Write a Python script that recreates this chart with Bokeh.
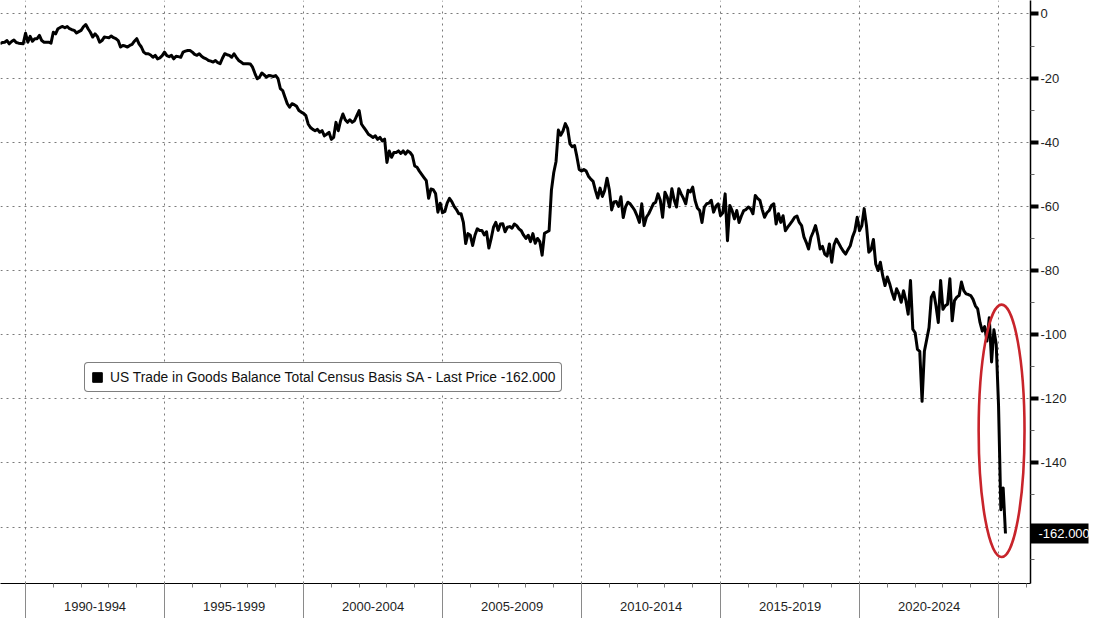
import pandas as pd
from bokeh.plotting import figure
from bokeh.models import (Range1d, LinearAxis, FixedTicker, Legend, LegendItem,
                          CustomLabelingPolicy)
from bokeh.embed import file_html
from bokeh.resources import INLINE

# ---------------- data (monthly, US trade in goods balance, USD bn) ----------------
tb_1989_1994 = [
    -9.3, -8.9, -8.8, -8.3, -9.3, -8.6, -8.1, -8.9, -9.1, -9.2, -9.3, -6.0,
    -8.8, -7.0, -8.5, -7.7, -7.7, -6.7, -8.3, -8.8, -8.8, -8.8, -9.1, -5.7,
    -6.2, -4.6, -4.2, -3.9, -4.3, -3.9, -4.6, -4.9, -5.1, -5.9, -5.5, -5.1,
    -4.0, -3.3, -4.6, -5.7, -7.2, -6.2, -7.0, -8.8, -8.3, -7.2, -7.3, -7.4,
    -6.9, -7.4, -7.7, -8.3, -10.3, -9.8, -10.0, -10.3, -9.8, -9.5, -8.5, -7.7,
    -9.3, -10.3, -11.9, -12.4, -12.4, -12.8, -13.5, -12.9, -14.0, -13.7, -13.0, -11.9,
]
tb_1995_1999 = [
    -13.0, -13.3, -12.9, -14.0, -13.2, -13.3, -13.5, -11.9, -11.6, -11.4, -11.4, -11.9,
    -12.6, -12.9, -12.4, -13.2, -13.7, -14.0, -14.5, -14.7, -15.0, -14.5, -15.2, -15.5,
    -13.8, -12.4, -12.7, -12.9, -13.5, -12.4, -13.5, -14.5, -15.0, -15.5, -15.5, -15.5,
    -15.6, -16.6, -18.5, -20.2, -19.7, -18.4, -19.0, -19.7, -19.2, -19.3, -19.5, -19.2,
    -20.2, -23.3, -23.9, -26.0, -28.0, -29.1, -28.0, -28.3, -28.8, -30.1, -30.6, -31.0,
]
tb_2000_2004 = [
    -31.7, -34.3, -35.4, -36.0, -36.4, -36.0, -36.9, -36.4, -38.0, -37.5, -36.9, -39.1,
    -38.5, -33.8, -36.4, -33.3, -31.2, -33.0, -33.8, -33.0, -33.8, -33.3, -31.7, -30.1,
    -34.3, -35.4, -36.4, -37.5, -38.0, -38.5, -38.0, -39.1, -38.5, -39.6, -39.0, -46.3,
    -42.7, -44.7, -43.2, -43.2, -42.7, -43.5, -42.7, -43.7, -42.7, -43.2, -44.2, -47.4,
    -47.8, -49.0, -50.0, -51.0, -52.0, -57.5, -54.6, -54.8, -56.0, -61.8, -59.0, -62.0,
]
tb_2005_2009 = [
    -61.6, -59.0, -57.5, -58.5, -60.0, -61.0, -62.3, -62.3, -65.0, -71.6, -68.5, -69.0,
    -72.2, -69.0, -67.0, -67.5, -67.5, -68.9, -67.9, -73.0, -70.0, -66.5, -65.0, -67.5,
    -65.5, -65.4, -67.9, -66.5, -66.3, -66.8, -65.5, -66.0, -67.0, -67.6, -69.0, -70.0,
    -69.0, -71.0, -68.5, -71.5, -70.0, -71.0, -75.2, -68.4, -68.0, -67.6, -55.0, -49.5,
    -46.0, -36.2, -37.8, -36.5, -34.2, -35.7, -40.5, -41.4, -41.0, -44.5, -48.5, -49.0,
]
tb_2010_2014 = [
    -48.5, -49.0, -50.6, -51.5, -52.2, -55.0, -57.4, -54.3, -56.9, -55.0, -51.2, -54.8,
    -61.1, -58.6, -58.5, -60.0, -57.0, -63.5, -60.2, -58.7, -59.2, -60.2, -61.3, -63.0,
    -65.0, -59.2, -66.0, -63.4, -62.3, -60.8, -59.2, -58.7, -56.1, -58.1, -63.4, -55.6,
    -57.1, -60.2, -54.5, -58.0, -60.2, -54.5, -56.1, -57.5, -59.2, -55.0, -55.5, -54.0,
    -58.1, -60.5, -61.3, -65.0, -60.2, -59.2, -59.0, -58.1, -61.8, -60.0, -59.2, -62.9,
]
tb_2015_2019 = [
    -62.0, -56.1, -70.7, -59.7, -61.3, -63.9, -61.3, -65.0, -63.0, -61.3, -61.0, -60.2,
    -60.8, -62.3, -56.6, -57.5, -58.1, -61.0, -63.4, -62.0, -61.3, -59.7, -59.2, -65.5,
    -62.3, -65.0, -62.9, -67.6, -66.5, -65.5, -64.5, -63.4, -63.0, -65.0, -66.0, -69.5,
    -71.2, -73.3, -69.7, -68.0, -66.0, -69.0, -73.3, -72.5, -74.9, -75.5, -71.7, -77.4,
    -72.0, -70.2, -71.5, -72.8, -74.0, -74.9, -73.5, -72.3, -69.5, -67.6, -63.4, -67.6,
]
tb_2020_2025 = [
    -66.0, -60.7, -66.0, -74.3, -73.5, -70.3, -78.0, -80.0, -77.4, -81.6, -84.7, -82.0,
    -84.1, -86.8, -89.0, -85.7, -87.3, -89.9, -86.3, -89.4, -93.6, -83.1, -98.3, -99.4,
    -104.6, -105.2, -120.8, -105.2, -101.5, -97.8, -88.3, -86.8, -91.0, -96.2, -83.1, -92.1,
    -91.0, -90.5, -82.6, -95.7, -89.4, -88.3, -87.8, -83.6, -86.3, -87.3, -87.5, -87.8,
    -89.0, -91.0, -92.0, -96.2, -98.9, -97.5, -102.0, -94.7, -108.5, -98.5, -103.0, -122.0,
    -154.6, -147.8, -162.0,
]
first_month = "1989-01-31"

period_bounds = [1990, 1995, 2000, 2005, 2010, 2015, 2020, 2025]
period_labels = ["1990-1994", "1995-1999", "2000-2004", "2005-2009",
                 "2010-2014", "2015-2019", "2020-2024"]
year_ticks = list(range(1990, 2027))
y_ticks = [0, -20, -40, -60, -80, -100, -120, -140, -160]
y_labels = ["0", "-20", "-40", "-60", "-80", "-100", "-120", "-140", "-160"]
y_minor = [-10, -30, -50, -70, -90, -110, -130, -150, -170]
legend_text = "US Trade in Goods Balance Total Census Basis SA - Last Price -162.000"
last_text = "-162.000"
last_value = -162.0

# ---------------- build ----------------
values = (tb_1989_1994 + tb_1995_1999 + tb_2000_2004 + tb_2005_2009
          + tb_2010_2014 + tb_2015_2019 + tb_2020_2025)
dates = pd.date_range(first_month, periods=len(values), freq="ME")
xdec = [d.year + d.month / 12.0 for d in dates]
mid_ticks = [(a + b) / 2.0 for a, b in zip(period_bounds[:-1], period_bounds[1:])]

FONT = "Liberation Sans"
TXT = "#1e1e1e"

p = figure(width=1094, height=618, output_backend="svg", toolbar_location=None,
           x_range=Range1d(1989.10, 2026.15), y_range=Range1d(-177.6, 4.2),
           y_axis_location="right", min_border=0, min_border_right=64)
p.outline_line_color = None
p.background_fill_color = "white"
p.border_fill_color = "white"

# grids
p.xgrid.ticker = FixedTicker(ticks=period_bounds)
p.ygrid.ticker = FixedTicker(ticks=y_ticks)
for g in (p.xgrid, p.ygrid):
    g.grid_line_color = "#7a7a7a"
    g.grid_line_dash = "2 4"
    g.grid_line_width = 1

# bottom axis with centred period labels
xa = p.xaxis[0]
xa.ticker = FixedTicker(ticks=mid_ticks, minor_ticks=year_ticks)
xa.major_label_overrides = {m: l for m, l in zip(mid_ticks, period_labels)}
xa.major_tick_line_color = None
xa.major_tick_in = 0
xa.major_tick_out = 0
xa.minor_tick_in = 0
xa.minor_tick_out = 4
xa.minor_tick_line_color = "#7a7a7a"
xa.axis_line_color = "black"
xa.axis_line_width = 1
xa.major_label_standoff = 14
xa.major_label_text_font = FONT
xa.major_label_text_font_size = "13px"
xa.major_label_text_color = TXT

# separator lines between periods (tick marks only, no labels)
bnd = LinearAxis(ticker=FixedTicker(ticks=period_bounds, minor_ticks=[]))
bnd.axis_line_color = None
bnd.major_tick_in = 31
bnd.major_tick_out = 5
bnd.major_tick_line_color = "#8a8a8a"
bnd.major_label_overrides = {b: "" for b in period_bounds}
bnd.major_label_text_font_size = "1px"
bnd.major_label_standoff = 0
bnd.minor_tick_line_color = None
bnd.major_label_policy = CustomLabelingPolicy(code="""
try { indices.clear() } catch (e) {
  try { for (const i of Array.from(indices)) { indices.unset(i) } } catch (e2) {}
}
return indices
""")
p.add_layout(bnd, "below")

# right value axis (the -160 label sits under the last-value tag)
axis_ticks = [t for t in y_ticks if abs(t - last_value) > 5]
ya = p.yaxis[0]
ya.ticker = FixedTicker(ticks=axis_ticks, minor_ticks=y_minor)
ya.major_label_overrides = {t: l for t, l in zip(y_ticks, y_labels) if t in axis_ticks}
ya.axis_line_color = "black"
ya.axis_line_width = 1.5
ya.major_tick_in = 0
ya.major_tick_out = 8
ya.major_tick_line_width = 4
ya.major_tick_line_color = "black"
ya.minor_tick_in = 0
ya.minor_tick_out = 4
ya.minor_tick_line_color = "#666666"
ya.major_label_standoff = 2
ya.major_label_text_font = FONT
ya.major_label_text_font_size = "13px"
ya.major_label_text_color = TXT

# last-value tag: a second right axis whose thick tick is the black box and
# whose white label is pulled back over it
tag = LinearAxis(ticker=FixedTicker(ticks=[last_value], minor_ticks=[]))
tag.major_label_overrides = {last_value: last_text}
tag.axis_line_color = None
tag.minor_tick_line_color = None
tag.major_tick_in = 39
tag.major_tick_out = 19
tag.major_tick_line_width = 20
tag.major_tick_line_color = "black"
tag.major_label_standoff = -50
tag.major_label_text_font = FONT
tag.major_label_text_font_size = "13px"
tag.major_label_text_color = "white"
p.add_layout(tag, "right")

# series line
p.line(x=xdec, y=values, line_color="black", line_width=3, line_join="round")

# red ellipse highlighting the latest readings
p.ellipse(x=[2025.11], y=[-130.0], width=1.65, height=78.7,
          fill_color=None, line_color="#c8242b", line_width=2.6)

# legend with a black square key (zero-area quad at the last reading)
key = p.quad(left=[xdec[-1]], right=[xdec[-1]], bottom=[values[-1]], top=[values[-1]],
             fill_color="black", line_color="black")
legend = Legend(items=[LegendItem(label=legend_text, renderers=[key])],
                location=(84, 191))
legend.label_text_font = FONT
legend.label_text_font_size = "13.8px"
legend.label_text_color = "#111111"
legend.border_line_color = "black"
legend.border_line_width = 1
legend.background_fill_color = "white"
legend.background_fill_alpha = 1
legend.padding = 6
legend.margin = 0
legend.glyph_width = 12
legend.glyph_height = 12
legend.label_standoff = 7
legend.label_height = 16
legend.spacing = 0
try:
    legend.border_radius = 4
except Exception:
    pass
p.add_layout(legend)

open("out.html", "w").write(file_html(p, INLINE))
